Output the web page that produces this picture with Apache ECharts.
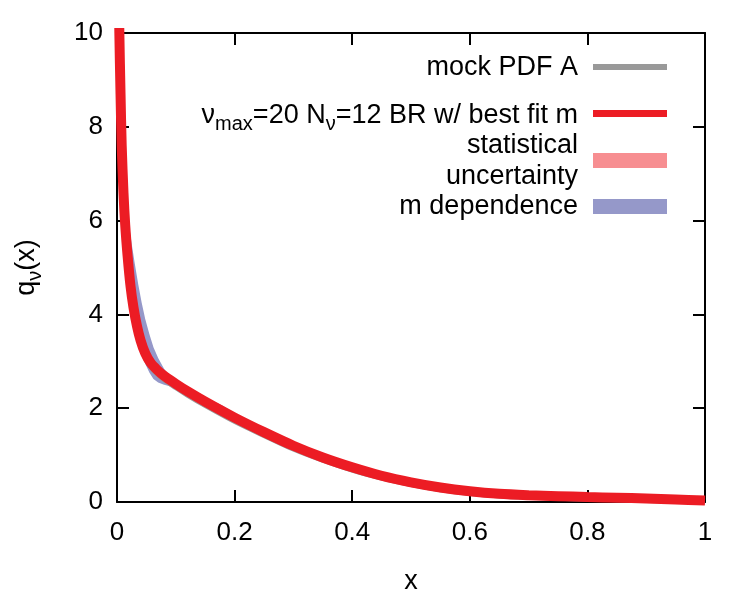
<!DOCTYPE html>
<html lang="en">
<head>
  <meta charset="UTF-8">
  <title>q_nu(x)</title>
  <script src="https://cdn.jsdelivr.net/npm/echarts@6/dist/echarts.min.js"></script>
  <style>
    html, body { margin: 0; padding: 0; background: #fff; }
    #main { width: 750px; height: 600px; }
  </style>
</head>
<body>
  <div id="main"></div>
  <script>
    // mock PDF A  [x, q]
    var mockPdf = [
      [0.003, 11], [0.004, 9.6], [0.006, 8.4], [0.008, 7.4], [0.011, 6.45], [0.014, 5.8],
      [0.018, 5.15], [0.023, 4.55], [0.028, 4.1], [0.034, 3.7], [0.04, 3.4], [0.048, 3.1],
      [0.057, 2.9], [0.068, 2.75], [0.08, 2.62], [0.1, 2.45], [0.12, 2.29], [0.15, 2.07],
      [0.2, 1.73], [0.25, 1.43], [0.3, 1.14], [0.35, 0.9], [0.4, 0.69], [0.45, 0.52],
      [0.5, 0.38], [0.55, 0.27], [0.6, 0.19], [0.65, 0.14], [0.7, 0.11], [0.75, 0.09],
      [0.8, 0.075], [0.85, 0.06], [0.9, 0.045], [0.95, 0.03], [1.0, 0.01]
    ]
    // best fit  [x, q]
    var bestFit = [
      [0.003, 11], [0.004, 10.0], [0.006, 8.7], [0.008, 7.6], [0.011, 6.6], [0.014, 5.9],
      [0.018, 5.25], [0.023, 4.6], [0.028, 4.15], [0.034, 3.75], [0.04, 3.45], [0.048, 3.17],
      [0.057, 2.97], [0.068, 2.82], [0.08, 2.69], [0.1, 2.52], [0.12, 2.36], [0.15, 2.14],
      [0.2, 1.8], [0.25, 1.49], [0.3, 1.2], [0.35, 0.95], [0.4, 0.74], [0.45, 0.56],
      [0.5, 0.42], [0.55, 0.31], [0.6, 0.23], [0.65, 0.175], [0.7, 0.145], [0.75, 0.125],
      [0.8, 0.105], [0.85, 0.09], [0.9, 0.075], [0.95, 0.055], [1.0, 0.03]
    ]
    // statistical uncertainty  [x, low, high]
    var statBand = [
      [0.006, 8.6, 8.8], [0.011, 6.5, 6.7], [0.018, 5.17, 5.33], [0.028, 4.08, 4.22],
      [0.04, 3.39, 3.51], [0.057, 2.92, 3.02], [0.08, 2.64, 2.74], [0.1, 2.47, 2.57],
      [0.15, 2.09, 2.19], [0.2, 1.76, 1.84], [0.3, 1.16, 1.24], [0.4, 0.71, 0.77],
      [0.5, 0.39, 0.45], [0.6, 0.2, 0.26], [0.8, 0.08, 0.13], [1.0, 0.01, 0.05]
    ]
    // m dependence  [x, low, high]
    var mBand = [
      [0.006, 8.5, 8.9], [0.009, 7.1, 7.75], [0.012, 6.2, 7.05], [0.016, 5.5, 6.45],
      [0.02, 4.95, 5.95], [0.025, 4.4, 5.5], [0.03, 3.95, 5.1], [0.036, 3.55, 4.65],
      [0.042, 3.2, 4.25], [0.048, 2.95, 3.9], [0.055, 2.76, 3.58], [0.062, 2.62, 3.3],
      [0.07, 2.55, 3.07], [0.08, 2.5, 2.84], [0.09, 2.47, 2.68], [0.1, 2.45, 2.58],
      [0.12, 2.32, 2.43], [0.15, 2.1, 2.23], [0.18, 1.9, 2.05], [0.2, 1.77, 1.89],
      [0.25, 1.47, 1.54], [0.3, 1.18, 1.23], [0.4, 0.72, 0.77], [0.5, 0.4, 0.44],
      [0.6, 0.21, 0.25], [0.8, 0.09, 0.12], [1.0, 0.02, 0.04]
    ]

    var font = 'Liberation Sans, Arial, sans-serif'
    var gray = '#999999'
    var red = '#ec1c24'
    var pink = '#f78e91'
    var blue = '#9598c9'

    // whole band drawn as one polygon, from the first data item
    function band(data, color) {
      return function (params, api) {
        if (params.dataIndex !== 0) return null
        var pts = []
        for (var i = 0; i < data.length; i++) pts.push(api.coord([data[i][0], data[i][2]]))
        for (var j = data.length - 1; j >= 0; j--) pts.push(api.coord([data[j][0], data[j][1]]))
        return { type: 'polygon', shape: { points: pts }, style: { fill: color } }
      }
    }

    var frame = { show: true, onZero: false, lineStyle: { color: '#000', width: 2 } }
    var ticks = { show: true, inside: true, length: 12, lineStyle: { color: '#000', width: 2 } }
    var sub = { fontSize: 20, fontFamily: font, color: '#000', padding: [16, 0, 0, 0] }

    function legendText(text, y) {
      return {
        type: 'text', x: 578, y: y,
        style: {
          text: text, font: '27px ' + font, fill: '#000', align: 'right', verticalAlign: 'middle',
          lineHeight: 31, rich: { s: sub }
        }
      }
    }

    var myChart = echarts.init(document.getElementById('main'))
    var option = {
      animation: false,
      grid: { left: 117, right: 45, top: 33, bottom: 98 },
      xAxis: [
        {
          type: 'value', min: 0, max: 1, interval: 0.2,
          name: 'x', nameLocation: 'middle', nameGap: 66,
          nameTextStyle: { fontSize: 27, fontFamily: font, color: '#000' },
          axisLine: frame, axisTick: ticks, splitLine: { show: false },
          axisLabel: { fontSize: 26, fontFamily: font, color: '#000', margin: 18 }
        },
        {
          type: 'value', position: 'top', min: 0, max: 1, interval: 0.2,
          axisLine: frame, axisTick: ticks, splitLine: { show: false }, axisLabel: { show: false }
        }
      ],
      yAxis: [
        {
          type: 'value', min: 0, max: 10, interval: 2,
          name: 'q{s|ν}(x)', nameLocation: 'middle', nameGap: 72, nameRotate: 90,
          nameTextStyle: { fontSize: 27, fontFamily: font, color: '#000', rich: { s: sub } },
          axisLine: frame, axisTick: ticks, splitLine: { show: false },
          axisLabel: { fontSize: 26, fontFamily: font, color: '#000', margin: 14 }
        },
        {
          type: 'value', position: 'right', min: 0, max: 10, interval: 2,
          axisLine: frame, axisTick: ticks, splitLine: { show: false }, axisLabel: { show: false }
        }
      ],
      series: [
        {
          name: 'm dependence', type: 'custom', data: mBand,
          encode: { x: 0, y: [1, 2] }, renderItem: band(mBand, blue), z: 1
        },
        {
          name: 'statistical uncertainty', type: 'custom', data: statBand,
          encode: { x: 0, y: [1, 2] }, renderItem: band(statBand, pink), z: 2
        },
        {
          name: 'mock PDF A', type: 'line', data: mockPdf, showSymbol: false, smooth: 0.3,
          lineStyle: { color: gray, width: 6 }, z: 3
        },
        {
          name: 'best fit', type: 'line', data: bestFit, showSymbol: false, smooth: 0.3,
          lineStyle: { color: red, width: 10 }, z: 4
        }
      ],
      graphic: [
        legendText('mock PDF A', 68),
        { type: 'rect', shape: { x: 593, y: 64, width: 74, height: 6 }, style: { fill: gray } },
        legendText('ν{s|max}=20 N{s|ν}=12 BR w/ best fit m', 116),
        { type: 'rect', shape: { x: 593, y: 110, width: 74, height: 7 }, style: { fill: red } },
        legendText('statistical\nuncertainty', 161),
        { type: 'rect', shape: { x: 593, y: 153, width: 74, height: 15 }, style: { fill: pink } },
        legendText('m dependence', 207),
        { type: 'rect', shape: { x: 593, y: 199, width: 74, height: 15 }, style: { fill: blue } }
      ]
    }
    myChart.setOption(option)
  </script>
</body>
</html>
